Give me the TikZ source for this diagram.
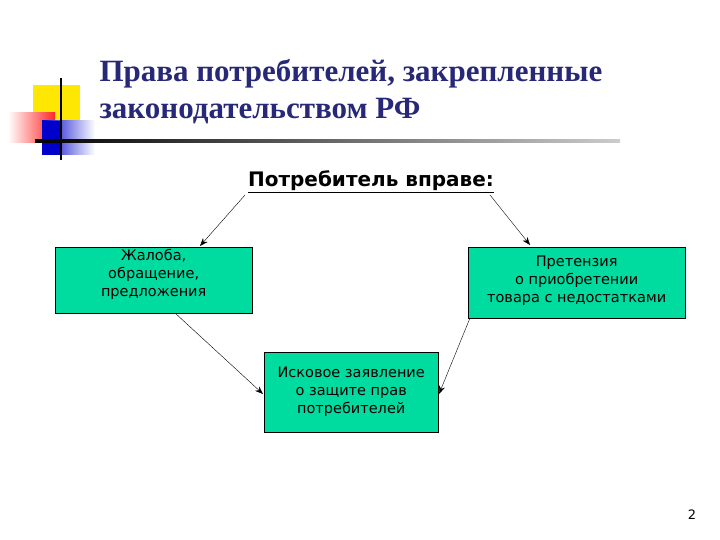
\documentclass[tikz,border=0pt]{standalone}
\usepackage{fontspec}
\setmainfont{Liberation Serif}
\setsansfont{DejaVu Sans}
\usetikzlibrary{arrows.meta}
\definecolor{navy}{RGB}{40,40,120}
\definecolor{boxg}{RGB}{0,220,160}
\begin{document}
\begin{tikzpicture}[x=1pt,y=-1pt,
  box/.style={draw=black,fill=boxg,font=\sffamily\fontsize{14.5}{18}\selectfont,align=center,inner sep=2pt},
  arr/.style={-{Stealth[length=8pt,width=6pt]},black,thin}]
\useasboundingbox (0,0) rectangle (720,540);
% logo
\fill[yellow!90!orange] (33,85) rectangle (80,135);
\shade[left color=white,right color=red!85] (8,113) rectangle (55,143);
\shade[left color=blue!80!black,right color=white] (42,121) rectangle (95,155);
\fill[blue!80!black] (42,121) rectangle (62,155);
\draw[line width=2pt] (61,78) -- (61,160);
\shade[left color=black,right color=gray!40] (35,140) rectangle (620,142.5);
% title
\node[anchor=west,text=navy,font=\bfseries\fontsize{31}{37}\selectfont,align=left] (t) at (96,92) {Права потребителей, закрепленные\\законодательством РФ};
\node[font=\sffamily\bfseries\fontsize{20}{24}\selectfont] (s) at (371,182) {\underline{Потребитель вправе:}};
\node[box,minimum width=197pt,minimum height=66pt,anchor=north west,text depth=14pt] (b1) at (55,247) {Жалоба,\\обращение,\\предложения};
\node[box,minimum width=217pt,minimum height=71pt,anchor=north west,text depth=6pt] (b2) at (468,247) {Претензия\\о приобретении\\товара с недостатками};
\node[box,minimum width=174pt,minimum height=80pt,anchor=north west] (b3) at (264,352) {Исковое заявление\\о защите прав\\потребителей};
\node[font=\sffamily\fontsize{13}{15}\selectfont] (n) at (692,515) {2};
\draw[arr] (245,195) -- (200,246);
\draw[arr] (490,195) -- (530,245);
\draw[arr] (175,313) -- (263,394);
\draw[arr] (470,318) -- (439,394);
\end{tikzpicture}
\end{document}
